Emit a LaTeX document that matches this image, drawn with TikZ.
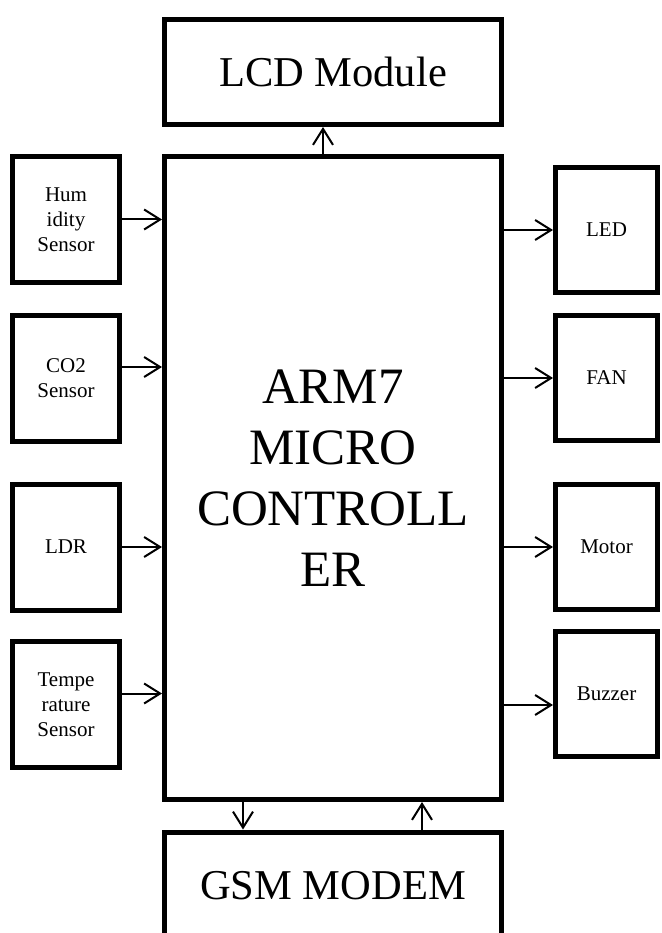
\documentclass[tikz,border=0pt]{standalone}
\usepackage{fontspec}
\setmainfont{Liberation Serif}
\usetikzlibrary{arrows.meta,positioning}

\begin{document}
\begin{tikzpicture}[
  x=1pt, y=-1pt,
  blk/.style={draw, line width=5pt, align=center, inner sep=0pt},
  sensor/.style={blk, minimum width=107pt, minimum height=126pt, font=\fontsize{21}{25}\selectfont},
  device/.style={blk, minimum width=102pt, minimum height=125pt, font=\fontsize{21}{25}\selectfont},
  arr/.style={-{Straight Barb[length=16pt,width=20pt]}, line width=2pt}
]
\useasboundingbox (0,0) rectangle (661,933);
\node[blk, minimum width=337pt, minimum height=643pt, font=\fontsize{51}{61}\selectfont] (arm) at (333,478) {ARM7\\MICRO\\CONTROLL\\ER};
\node[blk, minimum width=337pt, minimum height=105pt, font=\fontsize{42.5}{50}\selectfont, above=27pt of arm] (lcd) {LCD Module};
\node[blk, minimum width=337pt, minimum height=108pt, font=\fontsize{42.5}{50}\selectfont, below=27.5pt of arm] (gsm) {GSM MODEM};
% inputs
\node[sensor] (hum) at (66,219.5) {Hum\\idity\\Sensor};
\node[sensor] (co2) at (66,378) {CO2\\Sensor};
\node[sensor] (ldr) at (66,547) {LDR};
\node[sensor] (temp) at (66,704.5) {Tempe\\rature\\Sensor};
% outputs
\node[device] (led) at (606.5,230) {LED};
\node[device] (fan) at (606.5,378) {FAN};
\node[device] (motor) at (606.5,547) {Motor};
\node[device] (buzzer) at (606.5,694) {Buzzer};
\draw[arr] (hum.east) -- (hum.east -| arm.west);
\draw[arr] ([yshift=11pt]co2.east) -- ([yshift=11pt]co2.east -| arm.west);
\draw[arr] (ldr.east) -- (ldr.east -| arm.west);
\draw[arr] ([yshift=11pt]temp.east) -- ([yshift=11pt]temp.east -| arm.west);
\draw[arr] (led.west -| arm.east) -- (led.west);
\draw[arr] (fan.west -| arm.east) -- (fan.west);
\draw[arr] (motor.west -| arm.east) -- (motor.west);
\draw[arr] ([yshift=-11pt]buzzer.west -| arm.east) -- ([yshift=-11pt]buzzer.west);
\draw[arr] ([xshift=-10pt]arm.north) -- ([xshift=-10pt]lcd.south);
\draw[arr] ([xshift=-90pt]arm.south) -- ([xshift=-90pt]gsm.north);
\draw[arr] ([xshift=89pt]gsm.north) -- ([xshift=89pt]arm.south);
\end{tikzpicture}
\end{document}
